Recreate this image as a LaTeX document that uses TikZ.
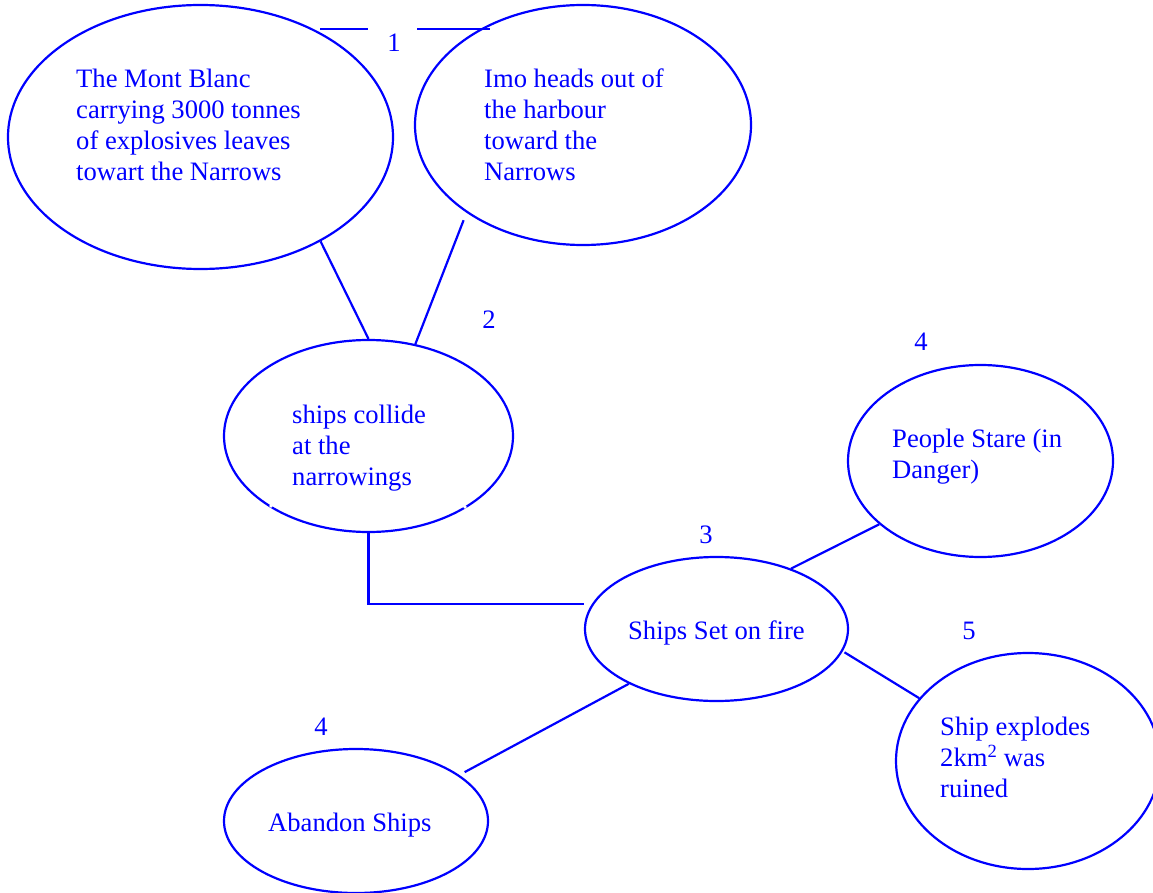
\documentclass[tikz,border=0pt]{standalone}
\usepackage{fontspec}
\setmainfont{Liberation Serif}
\usetikzlibrary{shapes.geometric}
\definecolor{ink}{RGB}{0,0,255}
\tikzset{
  bub/.style={ellipse, draw=ink, line width=2.2pt, inner sep=0pt},
  txt/.style={anchor=west, align=left, inner sep=0pt, text=ink, font=\fontsize{26.6}{31}\selectfont},
  num/.style={inner sep=0pt, text=ink, font=\fontsize{26.6}{31}\selectfont},
  con/.style={draw=ink, line width=2.2pt}
}
\begin{document}
\begin{tikzpicture}[x=1pt,y=-1pt]
\useasboundingbox (0,0) rectangle (1153,893);
\begin{scope}
\clip (0,0) rectangle (1153,893);
% ellipses
\node[bub, minimum width=385pt, minimum height=264pt] (e1) at (200.5,137) {};
\node[bub, minimum width=336pt, minimum height=240pt] (e2) at (583,125) {};
\node[bub, minimum width=289pt, minimum height=192pt] (e3) at (368.5,436) {};
\node[bub, minimum width=263pt, minimum height=144pt] (e4) at (716.5,629) {};
\node[bub, minimum width=265pt, minimum height=192pt] (e5) at (980.5,461) {};
\node[bub, minimum width=264pt, minimum height=216pt] (e6) at (1028,761) {};
\node[bub, minimum width=264pt, minimum height=144pt] (e7) at (356,821) {};
\end{scope}
% texts
\node[txt] (t1) at (76,125) {The Mont Blanc\\carrying 3000 tonnes\\of explosives leaves\\towart the Narrows};
\node[txt] (t2) at (484,125) {Imo heads out of\\the harbour\\toward the\\Narrows};
\node[txt] (t3) at (292,448) {ships collide\\at the\\narrowings};
\node[txt] (t4) at (628,633) {Ships Set on fire};
\node[txt] (t5) at (892,457) {People Stare (in\\Danger)};
\node[txt] (t6) at (940,757) {Ship explodes\\2km\textsuperscript{2} was\\ruined};
\node[txt] (t7) at (268,825) {Abandon Ships};
% numbers
\node[num] (n1) at (394,43) {1};
\node[num] (n2) at (489,320) {2};
\node[num] (n3) at (706,535) {3};
\node[num] (n4a) at (921,342) {4};
\node[num] (n5) at (969,631) {5};
\node[num] (n4b) at (321,727) {4};
% free ends of the top connector
\coordinate (a1) at (320,29);
\coordinate (a2) at (368,29);
\coordinate (b1) at (417,29);
\coordinate (b2) at (490,29);
\draw[con] (a1) -- (a2);
\draw[con] (b1) -- (b2);
% connectors
\draw[con] (e1.-41) -- (e3.north);
\draw[con, shorten <=8pt] (e2.217) -- (e3.63);
\draw[con] (e3.south) |- ([yshift=25pt]e4.west);
\draw[con] (e4.39) -- (e5.212);
\draw[con, shorten <=2pt] (e4.-10) -- (e6.150.5);
\draw[con, shorten >=6pt] (e4.212) -- (e7.24);
% small gaps in the outline of e3
\fill[white] (271,506) circle (1.8pt);
\fill[white] (465,507) circle (1.8pt);
\end{tikzpicture}
\end{document}
